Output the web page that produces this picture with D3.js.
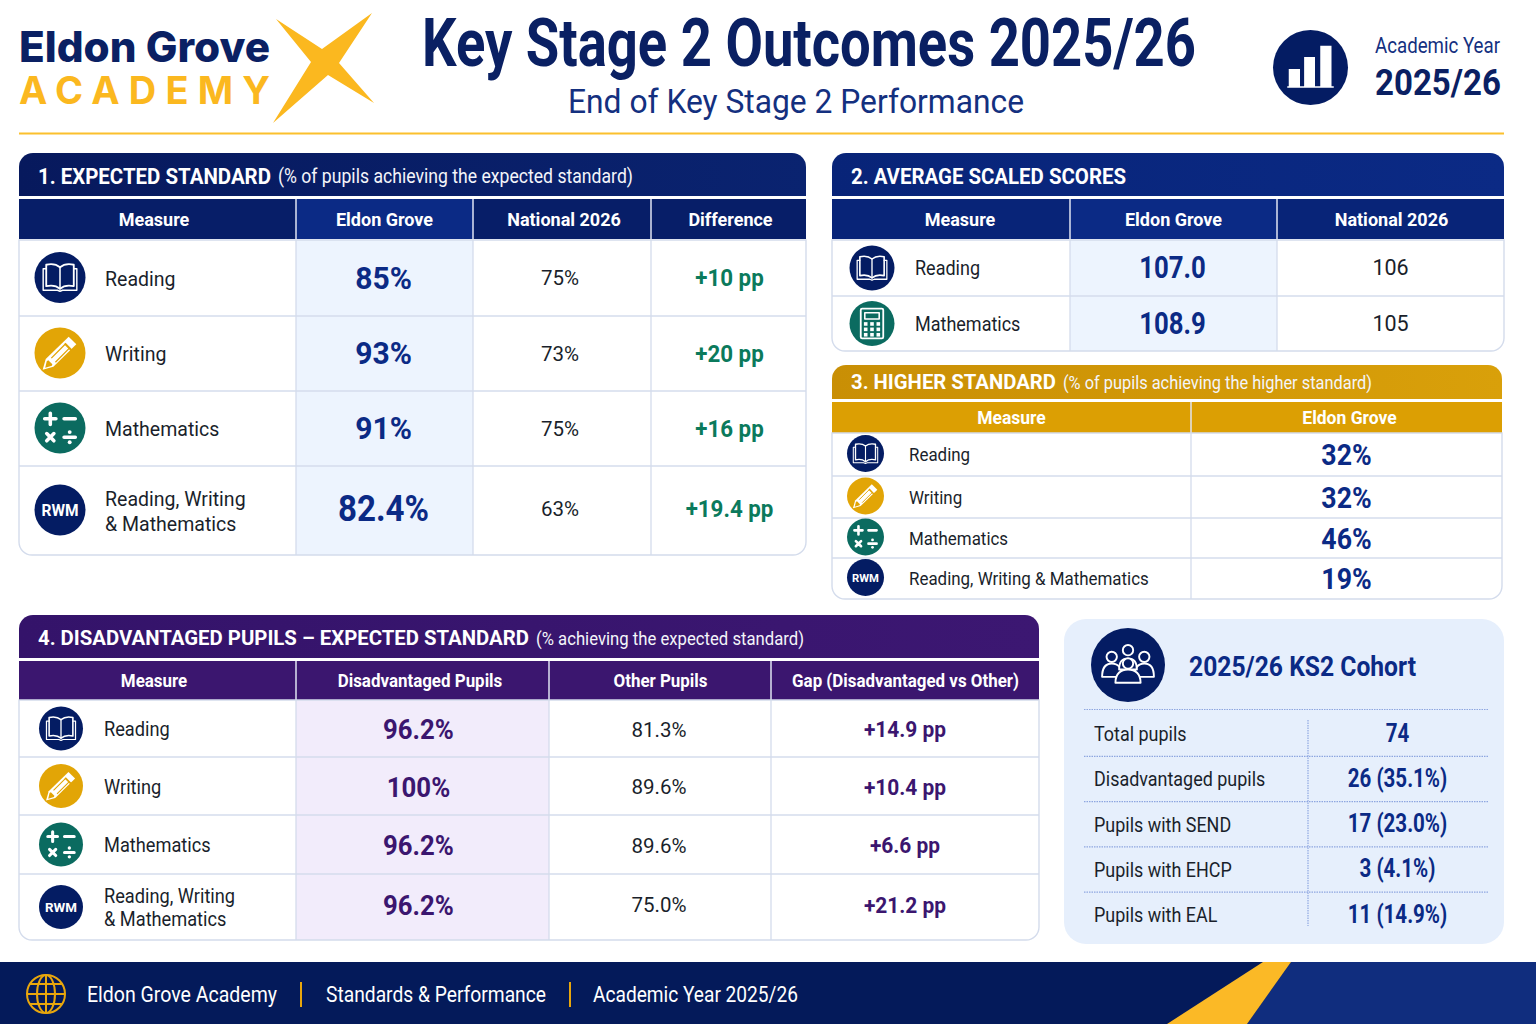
<!DOCTYPE html>
<html><head><meta charset="utf-8">
<script src="https://cdn.jsdelivr.net/npm/d3@7/dist/d3.min.js"></script>
<style>html,body{margin:0;padding:0;background:#fff}svg{display:block}text{font-family:Roboto,sans-serif}</style>
</head><body><svg id="c" width="1536" height="1024" viewBox="0 0 1536 1024"></svg>
<script>
// ---------- data ----------
const measures4 = ["Reading","Writing","Mathematics","Reading, Writing\n& Mathematics"];
const measures3 = ["Reading","Writing","Mathematics","Reading, Writing & Mathematics"];
const measures2 = ["Reading","Mathematics"];
const icons4 = ["book","pencil","math","rwm"];
const icons2 = ["book","calc"];

const expHeaders = ["Measure","Eldon Grove","National 2026","Difference"];
const expSchool = ["85%","93%","91%","82.4%"];
const expNational = ["75%","73%","75%","63%"];
const expDiff = ["+10 pp","+20 pp","+16 pp","+19.4 pp"];

const scaledHeaders = ["Measure","Eldon Grove","National 2026"];
const scaledSchool = ["107.0","108.9"];
const scaledNational = ["106","105"];

const higherHeaders = ["Measure","Eldon Grove"];
const higherSchool = ["32%","32%","46%","19%"];

const disHeaders = ["Measure","Disadvantaged Pupils","Other Pupils","Gap (Disadvantaged vs Other)"];
const disPupils = ["96.2%","100%","96.2%","96.2%"];
const disOther = ["81.3%","89.6%","89.6%","75.0%"];
const disGap = ["+14.9 pp","+10.4 pp","+6.6 pp","+21.2 pp"];

const cohortLabels = ["Total pupils","Disadvantaged pupils","Pupils with SEND","Pupils with EHCP","Pupils with EAL"];
const cohortValues = ["74","26 (35.1%)","17 (23.0%)","3 (4.1%)","11 (14.9%)"];
const footerItems = ["Eldon Grove Academy","Standards & Performance","Academic Year 2025/26"];

// ---------- palette ----------
const NAVY="#041c63", BLUE="#0b2a85", GOLD="#e2a506", STAR="#fbb81f", TEAL="#0b6b60", PURPLE="#3b166f", GREEN="#0b7a5c", LINE="#d4dcec", INK="#1a1f2b";

const svg = d3.select("#c");
const defs = svg.append("defs");
const grad=(id,a,b)=>{const g=defs.append("linearGradient").attr("id",id);g.append("stop").attr("offset","0").attr("stop-color",a);g.append("stop").attr("offset","1").attr("stop-color",b);};
grad("g1","#07195d","#0a2370");grad("g2","#082478","#0b2a85");grad("g3","#c98f05","#d9a00a");grad("g4","#34136a","#3c1772");

function put(p,str,x,y,o={}){
  const t=p.append("text").text(str).attr("x",x).attr("y",y)
    .attr("font-size",o.size||20).attr("font-weight",o.weight||400).attr("fill",o.fill||INK)
    .attr("text-anchor",o.anchor||"start").attr("dominant-baseline","central");
  if(o.family) t.style("font-family",o.family);
  const w=o.width|| (o.squeeze? t.node().getComputedTextLength()*o.squeeze : null);
  if(w) t.attr("textLength",w).attr("lengthAdjust",o.adjust||"spacingAndGlyphs");
  return t;
}

// ---------- icons (drawn in a 100x100 box centred on 0,0, r=50) ----------
function icon(p,type,cx,cy,r){
  const fills={book:NAVY,pencil:GOLD,math:TEAL,rwm:NAVY,calc:TEAL,chart:NAVY,people:NAVY};
  const g=p.append("g").attr("transform",`translate(${cx},${cy}) scale(${r/50})`);
  g.append("circle").attr("r",50).attr("fill",fills[type]);
  const w="#fff";
  const stroke=(d,sw=4)=>g.append("path").attr("d",d).attr("fill","none").attr("stroke",w).attr("stroke-width",sw).attr("stroke-linejoin","round").attr("stroke-linecap","round");
  if(type==="book"){
    stroke("M0,-20C-7,-26 -18,-27 -27,-25V17C-18,15 -7,16 0,22C7,16 18,15 27,17V-25C18,-27 7,-26 0,-20Z",3.6);
    stroke("M0,-20V22",3);
    stroke("M-27,-17H-33V25H-5L0,27L5,25H33V-17H27",2.8);
  }else if(type==="pencil"){
    g.append("path").attr("fill",w).attr("d","M17,-32L32,-17L-13,27L-34,33L-28,12Z");
    g.append("path").attr("fill",GOLD).attr("d","M8,-17L11,-20L24,-7L21,-4ZM-26,16L-29,29L-16,25L-15,22L-23,14Z");
    g.append("path").attr("stroke",GOLD).attr("stroke-width",2.5).attr("d","M-17,10L11,-18M-9,18L19,-10");
  }else if(type==="math"){
    stroke("M-30,-18H-8M-19,-29V-7M8,-18H30",7);
    stroke("M-26,11L-12,25M-12,11L-26,25M8,18H30",7);
    g.append("circle").attr("cx",19).attr("cy",8).attr("r",3.8).attr("fill",w);
    g.append("circle").attr("cx",19).attr("cy",28).attr("r",3.8).attr("fill",w);
  }else if(type==="rwm"){
    put(g,"RWM",0,1,{size:31,weight:700,fill:w,anchor:"middle",squeeze:.98});
  }else if(type==="calc"){
    stroke("M-22,-33H22A3,3 0 0 1 25,-30V30A3,3 0 0 1 22,33H-22A3,3 0 0 1 -25,30V-30A3,3 0 0 1 -22,-33Z",4);
    stroke("M-16,-24H16V-10H-16Z",3.5);
    [-14,0,14].forEach(x=>[1,13,25].forEach(y=>g.append("rect").attr("x",x-4).attr("y",y-4).attr("width",8).attr("height",8).attr("fill",w)));
  }else if(type==="chart"){
    g.append("path").attr("fill",w).attr("d","M-29,2H-14V25H-29ZM-8.5,-14H6V25H-8.5ZM13,-29H28V25H13ZM-31,25H31V27H-31Z");
  }else if(type==="people"){
    const head=(x,y,s)=>g.append("circle").attr("cx",x).attr("cy",y).attr("r",s).attr("fill","none").attr("stroke",w).attr("stroke-width",2.6);
    const body=(d)=>g.append("path").attr("d",d).attr("fill",NAVY).attr("stroke",w).attr("stroke-width",2.6).attr("stroke-linejoin","round");
    head(-22,-11,7);head(22,-11,7);head(0,-20,7);
    body("M-35,16C-35,4 -30,-2 -22,-2C-14,-2 -8,4 -8,16Z");
    body("M8,16C8,4 14,-2 22,-2C30,-2 35,4 35,16Z");
    body("M-12,6C-12,-5 -8,-9 0,-9C8,-9 12,-5 12,6Z");
    head(0,-2,7).attr("fill",NAVY);
    body("M-17,24C-17,12 -10,6 0,6C10,6 17,12 17,24Z");
  }
  return g;
}

// ---------- header ----------
put(svg,"Eldon Grove",19,46,{size:42,weight:800,fill:"#0a2063",family:"Inter",width:251});
put(svg,"ACADEMY",19,90,{size:38,weight:700,fill:STAR,family:"Inter",width:251,adjust:"spacing"});
svg.append("polygon").attr("fill",STAR).attr("points",[[372,13],[339,63],[374,103],[328,75],[273,123],[311,62],[276,19],[322,49]].join(" "));
put(svg,"Key Stage 2 Outcomes 2025/26",809,43,{size:66,weight:700,fill:"#0a2063",anchor:"middle",width:774});
put(svg,"End of Key Stage 2 Performance",796,101,{size:33,fill:"#14307f",anchor:"middle",width:456});
icon(svg,"chart",1310.5,67.5,37.5);
put(svg,"Academic Year",1375,45,{size:21.5,fill:"#14307f",width:125});
put(svg,"2025/26",1375,82,{size:37,weight:700,fill:"#0a2063",width:126});
svg.append("rect").attr("x",19).attr("y",132.5).attr("width",1485).attr("height",2).attr("fill","#fbc02d");

// ---------- tables ----------
function roundTop(x,y,w,h,r){return `M${x},${y+h}V${y+r}A${r},${r} 0 0 1 ${x+r},${y}H${x+w-r}A${r},${r} 0 0 1 ${x+w},${y+r}V${y+h}Z`;}
function roundBottom(x,y,w,h,r){return `M${x},${y}H${x+w}V${y+h-r}A${r},${r} 0 0 1 ${x+w-r},${y+h}H${x+r}A${r},${r} 0 0 1 ${x},${y+h-r}Z`;}

function table(c){
  const g=svg.append("g");
  const x0=c.cols[0],x1=c.cols[c.cols.length-1],w=x1-x0;
  g.append("path").attr("d",roundTop(x0,c.titleY[0],w,c.titleY[1]-c.titleY[0],14)).attr("fill",c.titleFill);
  const ty=(c.titleY[0]+c.titleY[1])/2+(c.titleDy===undefined?1.5:c.titleDy);
  put(g,c.title,c.titleX,ty,{size:c.titleSize,weight:700,fill:"#fff",width:c.titleW});
  if(c.sub) put(g,c.sub,c.subX,ty+.5,{size:c.subSize,fill:"#f4f5fa",width:c.subW});
  g.append("rect").attr("x",x0).attr("y",c.headY[0]).attr("width",w).attr("height",c.headY[1]-c.headY[0]).attr("fill",c.headFill);
  if(c.headHi) g.append("rect").attr("x",c.cols[1]).attr("y",c.headY[0]).attr("width",c.cols[2]-c.cols[1]).attr("height",c.headY[1]-c.headY[0]).attr("fill",c.headHi);
  c.headers.forEach((h,i)=>put(g,h,(c.cols[i]+c.cols[i+1])/2+(c.headDx[i]||0),(c.headY[0]+c.headY[1])/2,{size:c.headSize,weight:700,fill:"#fff",anchor:"middle",squeeze:c.headSq}));
  c.cols.slice(1,-1).forEach(x=>g.append("rect").attr("x",x-.75).attr("y",c.headY[0]).attr("width",1.5).attr("height",c.headY[1]-c.headY[0]).attr("fill","#dfe4f2"));
  const n=c.measures.length;
  const y=d3.scaleLinear().domain(d3.range(n+1)).range(c.rowEdges);
  const top=y(0),bot=y(n);
  if(c.hiFill) g.append("rect").attr("x",c.cols[1]).attr("y",top).attr("width",c.cols[2]-c.cols[1]).attr("height",bot-top).attr("fill",c.hiFill);
  d3.range(1,n).forEach(i=>g.append("line").attr("x1",x0).attr("x2",x1).attr("y1",y(i)).attr("y2",y(i)).attr("stroke",LINE).attr("stroke-width",1.3));
  c.cols.slice(1,-1).forEach(x=>g.append("line").attr("x1",x).attr("x2",x).attr("y1",top).attr("y2",bot).attr("stroke",LINE).attr("stroke-width",1.3));
  g.append("path").attr("d",roundBottom(x0,top,w,bot-top,13)).attr("fill","none").attr("stroke",LINE).attr("stroke-width",1.4);
  c.measures.forEach((m,i)=>{
    const cy=(y(i)+y(i+1))/2;
    icon(g,c.icons[i],c.iconX,cy+(c.iconDy||0),c.iconR);
    const parts=m.split("\n");
    parts.forEach((p,k)=>put(g,p,c.labelX,cy+(c.labelDy||0)+(k-(parts.length-1)/2)*c.labelLead,{size:c.labelSize,squeeze:c.labelSq}));
    c.columns.forEach((col,j)=>{
      const cx=(c.cols[j+1]+c.cols[j+2])/2;
      const isBig=col.big&&i===3;
      const last=(i===n-1&&c.lastDy)||0;
      put(g,col.values[i],cx+(col.dx||0),cy+(c.valueDy||0)+last,{size:isBig?col.big:col.size,weight:col.weight||400,fill:col.fill||INK,anchor:"middle",squeeze:isBig?(col.bigSq||col.sq):col.sq});
    });
  });
}

table({cols:[19,296,473,651,806],titleY:[153,196],titleFill:"url(#g1)",title:"1. EXPECTED STANDARD",titleX:38,titleW:233,titleSize:22,
  sub:"(% of pupils achieving the expected standard)",subX:278,subW:355,subSize:19.5,
  headY:[199,239],headFill:"#071e68",headHi:"#0b2a85",headers:expHeaders,headSize:18,headSq:1,headDx:[-3.5,0,2,2],
  measures:measures4,icons:icons4,rowEdges:[240,316,391,466,555],iconX:60,iconR:25.5,iconDy:-.5,labelX:105,labelSize:21,labelSq:.93,labelLead:25,labelDy:.8,valueDy:.3,lastDy:-1.5,hiFill:"#edf4fe",
  columns:[{values:expSchool,size:31,big:36,weight:700,fill:BLUE,sq:.97,bigSq:.92,dx:-1},{values:expNational,size:20.5,dx:-2,sq:1},{values:expDiff,size:23.5,weight:700,fill:GREEN,sq:.95,dx:1}]});

table({cols:[832,1070,1277,1504],titleY:[153,196],titleFill:"url(#g2)",title:"2. AVERAGE SCALED SCORES",titleX:851,titleW:275,titleSize:22,
  headY:[199,239],headFill:"#082478",headHi:"#0b2a85",headers:scaledHeaders,headSize:18,headSq:1,headDx:[9,0,1],
  measures:measures2,icons:icons2,rowEdges:[240,296,351],iconX:872,iconR:22.5,labelX:915,labelSize:20,labelSq:.9,labelLead:24,labelDy:0,valueDy:-.5,hiFill:"#edf4fe",
  columns:[{values:scaledSchool,size:31,weight:700,fill:BLUE,sq:.83,dx:-1},{values:scaledNational,size:21.5,sq:1}]});

table({cols:[832,1191,1502],titleY:[365,399],titleFill:"url(#g3)",title:"3. HIGHER STANDARD",titleX:851,titleW:205,titleSize:21,titleDy:0,
  sub:"(% of pupils achieving the higher standard)",subX:1063,subW:309,subSize:18,
  headY:[402,433],headFill:"#dc9f03",headers:higherHeaders,headSize:17.5,headSq:1,headDx:[0,3],
  measures:measures3,icons:icons4,rowEdges:[433,476,518,558,599],iconX:865.5,iconR:18.5,iconDy:-1,labelX:909,labelSize:18,labelSq:.94,labelLead:22,valueDy:.5,
  columns:[{values:higherSchool,size:29,weight:700,fill:BLUE,sq:.92}]});

table({cols:[19,296,549,771,1039],titleY:[615,658],titleFill:"url(#g4)",title:"4.  DISADVANTAGED PUPILS – EXPECTED STANDARD",titleX:38,titleW:491,titleSize:21,
  sub:"(% achieving the expected standard)",subX:536,subW:268,subSize:18.5,
  headY:[661,700],headFill:"#3b166f",headers:disHeaders,headSize:18,headSq:.94,headDx:[-3.5,-2.5,.5,.5],
  measures:measures4,icons:icons4,rowEdges:[700,757,815,874,940],iconX:61,iconR:22,labelX:104,labelSize:20,labelSq:.91,labelLead:23,labelDy:.6,valueDy:1,lastDy:-3,hiFill:"#f2ecfb",
  columns:[{values:disPupils,size:28,weight:700,fill:PURPLE,sq:.92,dx:-4},{values:disOther,size:20.5,sq:1,dx:-1},{values:disGap,size:22,weight:700,fill:PURPLE,sq:.95}]});

// ---------- cohort ----------
const co=svg.append("g");
co.append("rect").attr("x",1064).attr("y",619).attr("width",440).attr("height",325).attr("rx",22).attr("fill","#e6effc");
icon(co,"people",1128,665,37);
put(co,"2025/26 KS2 Cohort",1189,667,{size:27,weight:700,fill:BLUE,width:227});
const cy=d3.scaleLinear().domain([0,5]).range([711,937.5]);
const DOT={stroke:"#8ea6e0",w:1.2,dash:"1.5 1"};
d3.range(0,5).forEach(i=>co.append("line").attr("x1",1084).attr("x2",1489).attr("y1",i===0?709.5:cy(i)).attr("y2",i===0?709.5:cy(i)).attr("stroke",DOT.stroke).attr("stroke-width",DOT.w).attr("stroke-dasharray",DOT.dash));
co.append("line").attr("x1",1308).attr("x2",1308).attr("y1",720).attr("y2",926).attr("stroke",DOT.stroke).attr("stroke-width",DOT.w).attr("stroke-dasharray",DOT.dash);
cohortLabels.forEach((l,i)=>{
  const m=cy(i)+23;
  put(co,l,1094,m,{size:20.5,squeeze:.875});
  put(co,cohortValues[i],1397.5,m-1.5,{size:26,weight:700,fill:BLUE,anchor:"middle",squeeze:.79});
});

// ---------- footer ----------
const fo=svg.append("g");
fo.append("rect").attr("x",0).attr("y",962).attr("width",1536).attr("height",62).attr("fill","#041a5a");
fo.append("polygon").attr("fill","#102d7e").attr("points",[[1291,962],[1536,962],[1536,1024],[1247,1024]].join(" "));
fo.append("polygon").attr("fill","#fbb926").attr("points",[[1263,962],[1291,962],[1247,1024],[1167,1024]].join(" "));
const glb=fo.append("g").attr("transform","translate(46,994)").attr("fill","none").attr("stroke","#e8a60d").attr("stroke-width",2);
glb.append("circle").attr("r",19);
glb.append("ellipse").attr("rx",9).attr("ry",19);
glb.append("path").attr("d","M0,-19V19M-19,0H19M-16,-10H16M-16,10H16");
const footX=[87,326,593],footW=[190,220,205];
footerItems.forEach((t,i)=>{
  put(fo,t,footX[i],994.5,{size:21.5,fill:"#fff",width:footW[i]});
  if(i<2) fo.append("rect").attr("x",[300,569][i]).attr("y",982).attr("width",2).attr("height",25).attr("fill","#e8a60d");
});
</script></body></html>
